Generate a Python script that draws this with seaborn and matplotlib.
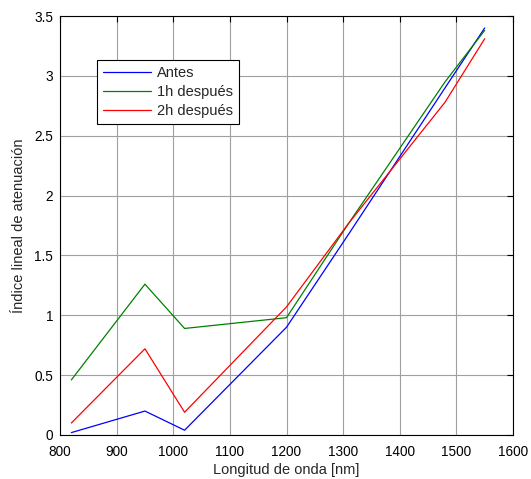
import matplotlib
matplotlib.use("Agg")
import matplotlib.pyplot as plt
import seaborn as sns
import pandas as pd
from matplotlib.ticker import FuncFormatter

wavelength = [820, 950, 1020, 1200, 1310, 1480, 1550]
antes = [0.02, 0.20, 0.04, 0.90, 1.68, 2.90, 3.40]
una_h = [0.46, 1.26, 0.89, 0.98, 1.77, 2.95, 3.38]
dos_h = [0.10, 0.72, 0.19, 1.07, 1.77, 2.78, 3.31]
series_names = ["Antes", "1h después", "2h después"]
colors = ["#0000ff", "#008000", "#ff0000"]

df = pd.DataFrame({
    "x": wavelength * 3,
    "y": antes + una_h + dos_h,
    "serie": sum([[n] * len(wavelength) for n in series_names], []),
})

sns.set_theme(style="white")
plt.rcParams['font.family'] = ['Liberation Sans', 'DejaVu Sans']

fig = plt.figure(figsize=(5.31, 4.79), dpi=100)
ax = fig.add_axes([60/531, 1 - 435/479, 453/531, 419/479])
sns.lineplot(data=df, x="x", y="y", hue="serie", palette=colors, ax=ax,
             linewidth=0.9, estimator=None, sort=False)

ax.set_xlim(800, 1600)
ax.set_ylim(0, 3.5)
ax.set_xticks(range(800, 1601, 100))
ax.set_yticks([0, 0.5, 1, 1.5, 2, 2.5, 3, 3.5])
ax.yaxis.set_major_formatter(FuncFormatter(lambda v, p: f"{v:g}"))
ax.grid(True, color="#a0a0a0", linewidth=0.8)
ax.tick_params(direction="in", length=4, top=True, right=True, labelsize=9.8,
               colors="black", width=0.8, pad=5)
ax.tick_params(axis="x", pad=7)
for s in ax.spines.values():
    s.set_color("black")
    s.set_linewidth(0.8)
ax.set_xlabel("Longitud de onda [nm]", fontsize=10.5, labelpad=3)
ax.set_ylabel("Índice lineal de atenuación", fontsize=10.5, labelpad=6)

leg = ax.legend(loc="upper left", bbox_to_anchor=(0.082, 0.895), fontsize=10.5,
                frameon=True, fancybox=False, edgecolor="black", framealpha=1,
                handlelength=3.3, handletextpad=0.4, borderpad=0.4,
                labelspacing=0.35, borderaxespad=0)
leg.get_frame().set_linewidth(0.8)

fig.savefig("out.png", dpi=100)
